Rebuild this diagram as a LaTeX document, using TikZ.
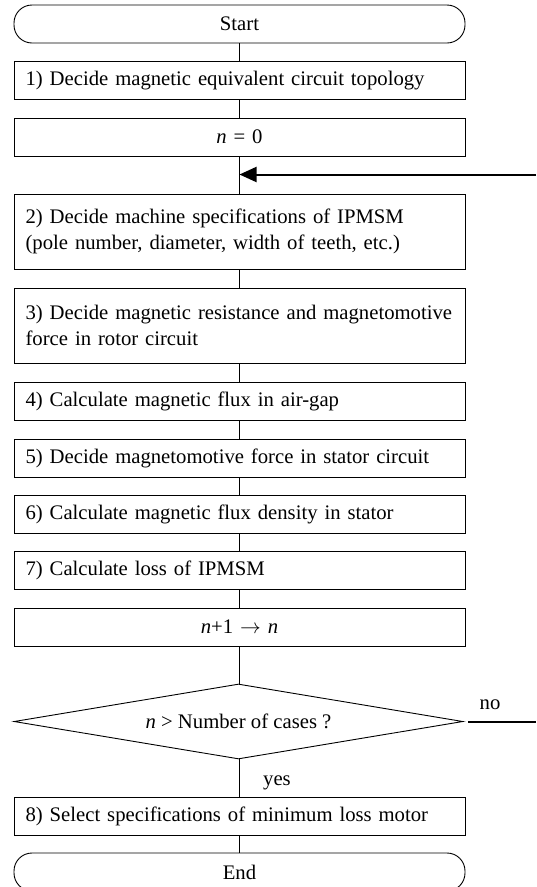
\documentclass[tikz,border=0pt]{standalone}
\usepackage{fontspec}
\setmainfont{Liberation Serif}
\usetikzlibrary{shapes.geometric,arrows.meta}
\begin{document}
\begin{tikzpicture}[x=1pt,y=1pt,
  every node/.style={font=\fontsize{20.7}{25.6}\selectfont},
  box/.style={draw,line width=0.9pt,minimum width=451pt,minimum height=38pt,inner xsep=11.6pt,inner ysep=0pt,text width=427.8pt,align=left},
  cbox/.style={box,align=center},
  tall/.style={box,minimum height=75pt},
  term/.style={draw,line width=0.9pt,rounded corners=18pt,minimum width=451pt,minimum height=38pt,inner sep=0pt},
  dec/.style={draw,line width=0.9pt,diamond,aspect=6,inner sep=0pt,minimum width=449pt,minimum height=75pt},
  conn/.style={line width=1.2pt},
  thick conn/.style={line width=2pt}]
\useasboundingbox (0,0) rectangle (536,-887);
\clip (0,0) rectangle (536,-887);
\node[term] (start) at (239.5,-24) {Start};
\node[box] (b1) at (239.5,-80.5) {\mbox{1) Decide magnetic equivalent circuit topology}};
\node[cbox] (b0) at (239.5,-137) {\textit{n} = 0};
\node[tall] (b2) at (239.5,-231.5) {\mbox{2) Decide machine specifications of IPMSM}\\\mbox{(pole number, diameter, width of teeth, etc.)}};
\node[tall] (b3) at (239.5,-325.5) {\mbox{3) Decide magnetic resistance and magnetomotive}\\\mbox{force in rotor circuit}};
\node[box] (b4) at (239.5,-401.5) {\mbox{4) Calculate magnetic flux in air-gap}};
\node[box] (b5) at (239.5,-458) {\mbox{5) Decide magnetomotive force in stator circuit}};
\node[box] (b6) at (239.5,-514.5) {\mbox{6) Calculate magnetic flux density in stator}};
\node[box] (b7) at (239.5,-570.5) {\mbox{7) Calculate loss of IPMSM}};
\node[cbox] (b8) at (239.5,-627) {\textit{n}+1 $\rightarrow$ \textit{n}};
\node[dec] (d) at (238.5,-721.5) {\textit{n} > Number of cases ?};
\node[box] (b9) at (239.5,-816) {\mbox{8) Select specifications of minimum loss motor}};
\node[term] (end) at (239.5,-872) {End};
\node[anchor=base] (no) at (490,-709) {no};
\node[anchor=base] (yes) at (277,-785) {yes};
\coordinate (rin) at (536,-174.5);
\coordinate (rout) at (536,-721.5);
\draw[conn] (start) -- (b1);
\draw[conn] (b1) -- (b0);
\draw[conn] (b0) -- (b2);
\draw[conn] (b2) -- (b3);
\draw[conn] (b3) -- (b4);
\draw[conn] (b4) -- (b5);
\draw[conn] (b5) -- (b6);
\draw[conn] (b6) -- (b7);
\draw[conn] (b7) -- (b8);
\draw[conn] (b8.south) -- (b8.south |- d.north);
\draw[conn] (b8.south |- d.south) -- (b9.north);
\draw[conn] (b9) -- (end);
\draw[thick conn,-{Triangle[length=17pt,width=15pt]}] (rin) -- (b0.south |- rin);
\draw[thick conn,shorten <=5pt] (d.east) -- (rout);
\end{tikzpicture}
\end{document}
